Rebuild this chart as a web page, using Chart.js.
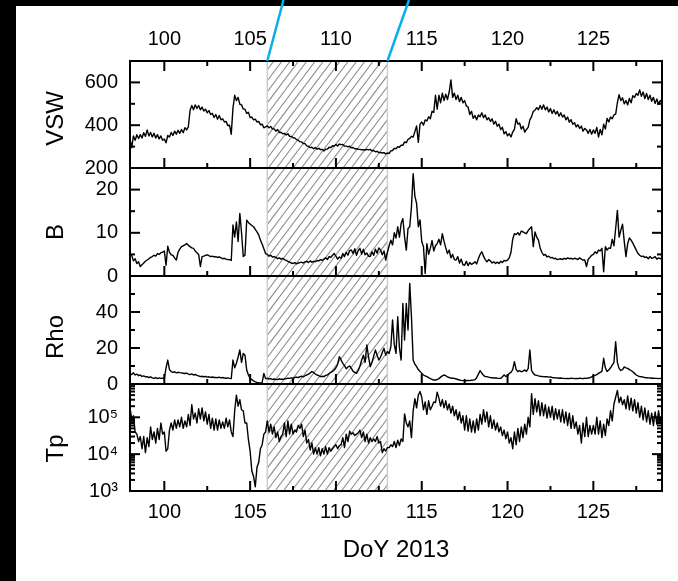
<!DOCTYPE html>
<html lang="en">
<head>
    <meta charset="UTF-8">
    <title>Solar wind, DoY 2013</title>

    <!-- Chart.js Library -->
    <script src="https://cdn.jsdelivr.net/npm/chart.js"></script>

    <style>
        html, body {
            margin: 0;
            width: 678px;
            height: 581px;
            overflow: hidden;
            background: #000;
        }

        /* white sheet, the black strip shows on the left and top */
        .sheet {
            position: absolute;
            left: 16px;
            top: 6px;
            right: 0;
            bottom: 0;
            background: #fff;
        }

        .stack canvas {
            position: absolute;
            left: 0;
            top: 0;
        }
    </style>
</head>

<body>
    <div class="sheet"></div>
    <div class="stack">
        <canvas id="c-vsw" width="678" height="581"></canvas>
        <canvas id="c-b" width="678" height="581"></canvas>
        <canvas id="c-rho" width="678" height="581"></canvas>
        <canvas id="c-tp" width="678" height="581"></canvas>
    </div>

    <script>
        // Sampling: one value every 0.1 day, DoY 98.0 .. 129.0
        const dayStart = 98.0;
        const dayStep = 0.1;

        // shaded interval (DoY)
        const hatchFrom = 106;
        const hatchTo = 113;

        // x ticks
        const xMajor = [100, 105, 110, 115, 120, 125];
        const xMinor = [102.5, 107.5, 112.5, 117.5, 122.5, 127.5];

        // y ticks per panel
        const vswTicks = [200, 400, 600];
        const vswMinor = [300, 500];
        const bTicks = [0, 10, 20];
        const bMinor = [5, 15];
        const rhoTicks = [0, 20, 40];
        const rhoMinor = [10, 30, 50];
        const tpTicks = [1e3, 1e4, 1e5];
        const tpTickLabels = ['10³', '10⁴', '10⁵'];

        // Solar wind speed (km/s)
        const vsw = [
            335, 295, 350, 330, 355, 338, 356, 340, 365, 348,
            378, 350, 366, 345, 362, 340, 356, 336, 350, 330,
            335, 318, 352, 345, 366, 352, 372, 358, 376, 362,
            380, 365, 388, 378, 392, 470, 492, 472, 495, 478,
            492, 472, 485, 466, 475, 458, 468, 450, 455, 436,
            450, 428, 445, 425, 430, 415, 418, 398, 400, 358,
            480, 540, 515, 530, 498, 495, 476, 475, 455, 460,
            436, 438, 425, 428, 415, 418, 402, 405, 388, 392,
            397, 388, 394, 383, 383, 372, 380, 366, 367, 360,
            362, 354, 360, 348, 348, 341, 340, 333, 330, 323,
            322, 314, 314, 303, 302, 295, 297, 290, 296, 288,
            292, 286, 287, 280, 288, 288, 297, 296, 304, 303,
            310, 303, 312, 309, 310, 302, 302, 299, 302, 294,
            296, 290, 290, 287, 287, 285, 286, 284, 287, 285,
            287, 280, 282, 276, 278, 272, 273, 270, 272, 266,
            270, 268, 280, 282, 292, 290, 300, 297, 307, 306,
            322, 318, 334, 338, 348, 345, 370, 397, 320, 405,
            415, 400, 425, 420, 440, 430, 465, 460, 540, 475,
            540, 505, 550, 515, 545, 520, 555, 612, 530, 550,
            520, 540, 510, 530, 505, 515, 490, 485, 450, 465,
            432, 445, 425, 448, 440, 458, 435, 448, 425, 435,
            418, 430, 405, 418, 395, 405, 380, 390, 360, 370,
            350, 360, 345, 368, 380, 430, 405, 410, 382, 395,
            368, 380, 390, 425, 440, 465, 470, 482, 472, 492,
            475, 495, 472, 485, 462, 478, 455, 472, 452, 465,
            442, 458, 438, 448, 425, 438, 414, 426, 404, 412,
            392, 402, 385, 396, 372, 385, 378, 362, 380, 358,
            378, 362, 390, 345, 380, 355, 405, 382, 432, 415,
            438, 430, 448, 452, 505, 543, 515, 528, 500, 515,
            495, 525, 505, 538, 530, 548, 540, 565, 535, 555,
            525, 548, 520, 540, 512, 530, 502, 522, 498, 515,
            505
        ];

        // Magnetic field magnitude (nT)
        const bField = [
            5.0, 4.8, 3.5, 4.0, 2.9, 3.3, 2.2, 2.6, 3.0, 3.4,
            3.7, 4.0, 4.3, 4.5, 4.8, 4.6, 5.2, 5.0, 5.4, 5.5,
            5.8, 2.5, 6.9, 5.5, 4.9, 4.8, 4.2, 3.7, 5.5, 6.2,
            6.8, 7.0, 7.2, 7.5, 7.1, 6.8, 6.5, 6.4, 5.8, 5.4,
            5.0, 2.2, 4.5, 4.6, 4.8, 4.9, 4.7, 4.5, 4.6, 4.4,
            4.5, 4.3, 4.4, 4.2, 4.0, 4.1, 3.9, 3.8, 3.8, 3.6,
            11.8, 9.0, 12.5, 8.0, 14.5, 10.0, 4.5, 4.8, 12.9, 12.4,
            12.0, 11.7, 11.4, 10.8, 10.2, 9.5, 8.3, 7.4, 6.3, 5.2,
            5.0, 4.6, 4.8, 4.4, 4.5, 4.3, 4.0, 4.2, 3.9, 4.1,
            3.8, 3.6, 3.4, 3.2, 3.0, 2.9, 3.1, 2.8, 3.0, 3.1,
            3.2, 3.0, 3.3, 3.4, 3.1, 3.5, 3.2, 3.4, 3.3, 3.6,
            3.5, 3.8, 3.6, 3.9, 4.2, 3.8, 4.5, 4.3, 4.8, 5.2,
            4.6, 3.9, 4.4, 4.1, 5.2, 4.5, 5.5, 4.8, 5.9, 6.0,
            5.2, 6.3, 4.8, 5.9, 6.4, 5.1, 6.2, 4.9, 5.3, 4.6,
            4.5, 5.6, 4.8, 6.2, 5.3, 6.5, 6.0, 4.9, 5.8, 3.7,
            5.5, 7.0, 8.3, 7.2, 10.0, 8.8, 11.4, 9.0, 12.2, 13.3,
            9.0, 6.0, 11.0, 11.4, 16.0, 23.7, 18.5, 16.8, 11.4, 13.0,
            8.0, 6.8, 0.6, 7.5, 5.0, 6.4, 8.2, 5.8, 7.0, 7.5,
            8.5, 7.2, 9.8, 8.0, 6.5, 5.2, 6.0, 4.2, 5.0, 3.8,
            3.7, 4.5, 3.0, 3.9, 2.6, 2.5, 3.4, 2.4, 3.1, 2.7,
            2.9, 3.3, 2.8, 4.0, 5.0, 5.6, 4.6, 3.8, 3.3, 3.8,
            3.5, 3.0, 3.3, 2.9, 3.2, 2.9, 3.4, 3.1, 3.6, 3.5,
            3.7, 4.2, 5.5, 8.5, 9.8, 9.6, 10.0, 9.5, 10.4, 10.2,
            10.0, 9.8, 10.5, 11.0, 11.4, 6.8, 10.2, 9.0, 8.3, 6.5,
            5.5, 4.8, 5.0, 4.4, 4.6, 4.2, 4.3, 4.0, 4.1, 3.8,
            3.9, 4.0, 3.8, 4.1, 3.9, 4.2, 4.0, 4.1, 3.9, 4.1,
            4.0, 3.8, 4.2, 3.9, 3.7, 3.7, 2.2, 3.9, 4.3, 4.8,
            5.0, 5.6, 5.2, 6.0, 5.8, 6.4, 1.0, 6.8, 6.0, 6.5,
            6.4, 8.5, 7.0, 11.0, 15.2, 9.0, 10.6, 12.0, 8.0, 4.5,
            7.5, 8.8, 8.3, 7.6, 6.8, 6.0, 5.2, 4.8, 4.5, 4.6,
            4.3, 4.4, 4.0, 4.5, 4.1, 4.2, 4.5, 3.9, 4.2, 4.0,
            4.1
        ];

        // Proton density (cm^-3)
        const rho = [
            5.9, 5.2, 6.2, 5.0, 5.5, 4.6, 5.0, 4.2, 4.5, 4.0,
            4.1, 3.5, 4.0, 3.4, 3.1, 3.6, 3.0, 3.4, 3.1, 3.2,
            3.1, 9.0, 13.3, 8.0, 6.9, 6.5, 6.8, 6.2, 6.5, 6.3,
            6.2, 6.0, 5.8, 6.1, 5.5, 5.2, 5.6, 5.0, 5.3, 4.8,
            4.5, 4.1, 4.3, 4.0, 4.2, 3.8, 4.0, 3.7, 3.9, 3.6,
            3.7, 3.5, 3.8, 3.4, 3.6, 3.3, 3.2, 3.4, 3.1, 3.0,
            13.3, 9.0, 11.5, 15.0, 18.9, 12.0, 17.0, 16.0, 7.8, 5.0,
            3.1, 2.4, 1.7, 1.2, 0.9, 0.7, 0.6, 0.7, 5.9, 3.0,
            3.1, 2.8, 3.0, 2.5, 2.8, 2.6, 2.4, 2.9, 2.6, 2.6,
            2.8, 3.0, 3.2, 3.1, 3.4, 3.2, 3.6, 3.8, 3.5, 4.1,
            4.3, 4.0, 4.6, 5.0, 5.5, 6.2, 6.9, 6.4, 5.5, 5.0,
            4.6, 4.1, 4.3, 4.1, 4.8, 5.0, 5.8, 6.5, 7.0, 7.8,
            9.0, 11.0, 15.2, 13.3, 11.5, 10.2, 8.5, 9.5, 10.0, 8.7,
            7.0, 6.5, 5.9, 7.5, 10.0, 13.3, 16.0, 12.0, 21.7, 15.0,
            9.6, 12.0, 15.5, 18.9, 16.0, 13.3, 15.0, 17.5, 19.8, 16.0,
            18.0, 17.0, 20.7, 35.6, 22.0, 17.0, 37.4, 20.0, 13.3, 44.8,
            24.4, 44.8, 30.0, 55.9, 37.4, 13.3, 11.0, 9.6, 8.0, 7.0,
            5.9, 5.0, 4.5, 4.1, 3.5, 3.0, 2.6, 2.2, 2.2, 2.5,
            3.0, 3.8, 4.5, 5.0, 4.6, 4.0, 3.6, 3.3, 3.2, 3.1,
            2.8, 2.5, 2.2, 2.0, 1.9, 1.9, 1.8, 2.0, 1.9, 2.1,
            2.2, 2.4, 3.5, 5.5, 7.4, 6.0, 4.8, 4.1, 4.1, 3.8,
            3.6, 3.5, 3.3, 3.4, 3.2, 3.1, 3.1, 4.0, 5.0, 4.2,
            4.5, 5.9, 6.5, 8.0, 12.4, 8.0, 6.9, 7.5, 6.8, 7.2,
            7.8, 7.0, 8.5, 18.9, 7.5, 5.9, 5.0, 4.8, 4.5, 4.3,
            4.2, 4.1, 4.0, 4.1, 3.8, 3.9, 3.6, 3.5, 3.4, 3.3,
            3.2, 3.3, 3.1, 3.1, 3.0, 3.1, 3.0, 3.2, 3.1, 3.0,
            3.1, 3.0, 3.2, 3.1, 3.0, 3.2, 3.1, 3.3, 3.5, 4.0,
            4.5, 4.8, 5.2, 5.9, 6.5, 7.0, 14.3, 9.0, 7.0, 7.8,
            9.0, 10.5, 12.0, 23.5, 12.0, 8.7, 7.5, 8.0, 9.5, 9.0,
            8.7, 8.0, 7.5, 6.8, 5.9, 5.0, 4.5, 4.1, 4.0, 3.8,
            3.6, 3.5, 3.4, 3.3, 3.2, 3.2, 3.1, 3.1, 3.0, 3.1,
            3.1
        ];

        // Proton temperature, in thousands of K (upper/lower edge of the band, alternating)
        const tpKilo = [
            180, 90, 110, 40, 35, 22, 30, 14, 30, 11,
            28, 16, 55, 25, 40, 20, 50, 25, 70, 35,
            40, 12, 14, 45, 70, 45, 85, 50, 85, 55,
            100, 50, 80, 55, 120, 60, 220, 90, 130, 70,
            170, 90, 180, 80, 140, 65, 120, 50, 95, 45,
            90, 45, 85, 50, 75, 50, 95, 55, 85, 40,
            30, 150, 400, 200, 300, 160, 150, 70, 70, 25,
            12, 3.5, 2.5, 1.3, 4.4, 6, 14, 18, 35, 40,
            80, 40, 65, 35, 55, 28, 40, 22, 30, 35,
            70, 30, 80, 35, 65, 35, 45, 40, 60, 50,
            65, 30, 45, 20, 25, 13, 20, 10, 15, 10,
            15, 9, 14, 10, 16, 10, 15, 12, 14, 16,
            18, 14, 17, 18, 28, 15, 35, 22, 42, 35,
            38, 32, 35, 38, 45, 28, 40, 22, 35, 20,
            28, 22, 26, 22, 30, 20, 22, 11, 14, 12,
            15, 15, 18, 16, 22, 15, 24, 17, 26, 22,
            123, 70, 55, 80, 28, 150, 320, 180, 400, 500,
            350, 160, 260, 120, 280, 160, 200, 260, 250, 480,
            330, 200, 300, 180, 280, 160, 230, 130, 200, 110,
            160, 85, 140, 70, 110, 45, 110, 42, 90, 40,
            80, 38, 90, 45, 120, 65, 160, 75, 140, 55,
            110, 50, 85, 45, 70, 40, 55, 32, 45, 26,
            40, 20, 28, 14, 40, 18, 50, 22, 55, 28,
            65, 35, 100, 55, 437, 120, 320, 140, 280, 110,
            250, 110, 220, 95, 190, 100, 200, 85, 170, 90,
            160, 75, 160, 70, 140, 60, 130, 50, 110, 50,
            75, 35, 60, 20, 70, 30, 100, 30, 60, 35,
            60, 35, 100, 35, 80, 28, 65, 32, 90, 60,
            150, 80, 230, 350, 537, 250, 350, 220, 300, 170,
            380, 160, 330, 150, 300, 130, 250, 100, 200, 85,
            180, 75, 150, 65, 130, 60, 140, 65, 150, 70,
            100
        ];

        const days = vsw.map((_, i) => dayStart + i * dayStep);

        // minor ticks of the log axis: 2..9 in every decade
        const tpMinor = [];
        tpTicks.forEach(d => { for (let m = 2; m <= 9; m++) if (m * d <= 8e5) tpMinor.push(m * d); });

        Chart.defaults.font.family = '"Liberation Sans", Arial, Helvetica, sans-serif';
        Chart.defaults.color = '#000';

        // hatch, frame, inward ticks, side label and the two link lines
        const panelDecor = {
            id: 'panelDecor',
            beforeDatasetsDraw(chart, args, o) {
                const { ctx, chartArea: a } = chart;
                const sx = chart.scales.x;
                const x0 = sx.getPixelForValue(hatchFrom);
                const x1 = sx.getPixelForValue(hatchTo);
                const H = chart.height;
                ctx.save();
                ctx.beginPath();
                ctx.rect(x0, a.top, x1 - x0, a.bottom - a.top);
                ctx.clip();
                ctx.strokeStyle = '#8c8c8c';
                ctx.lineWidth = 1.1;
                const sMin = x0 - (H - a.top) * o.hatchLean;
                const sMax = x1 - (H - a.bottom) * o.hatchLean;
                for (let s = Math.floor(sMin / o.hatchGap) * o.hatchGap; s <= sMax; s += o.hatchGap) {
                    ctx.beginPath();
                    ctx.moveTo(s + (H - a.bottom) * o.hatchLean, a.bottom);
                    ctx.lineTo(s + (H - a.top) * o.hatchLean, a.top);
                    ctx.stroke();
                }
                ctx.restore();

                ctx.save();
                ctx.strokeStyle = '#cdcdcd';
                ctx.lineWidth = 1.5;
                [x0, x1].forEach(x => {
                    ctx.beginPath();
                    ctx.moveTo(x, a.top);
                    ctx.lineTo(x, a.bottom);
                    ctx.stroke();
                });
                ctx.restore();
            },
            afterDraw(chart, args, o) {
                const { ctx, chartArea: a } = chart;
                const sx = chart.scales.x, sy = chart.scales.y;
                const seg = (x1, y1, x2, y2) => {
                    ctx.beginPath();
                    ctx.moveTo(x1, y1);
                    ctx.lineTo(x2, y2);
                    ctx.stroke();
                };
                ctx.save();
                ctx.strokeStyle = '#000';
                ctx.lineWidth = 2;
                const xt = (vals, len) => vals.forEach(v => {
                    const p = sx.getPixelForValue(v);
                    seg(p, a.bottom, p, a.bottom - len);
                    if (o.topTicks) seg(p, a.top, p, a.top + len);
                });
                xt(xMajor, 10);
                xt(xMinor, 5);
                const yt = (vals, len) => vals.forEach(v => {
                    const p = sy.getPixelForValue(v);
                    seg(a.left, p, a.left + len, p);
                    seg(a.right, p, a.right - len, p);
                });
                yt(o.yMajor, 10);
                yt(o.yMinor, 5);
                ctx.strokeRect(a.left, a.top, a.right - a.left, a.bottom - a.top);

                // rotated panel label
                ctx.fillStyle = '#000';
                ctx.font = '24px "Liberation Sans", Arial, sans-serif';
                ctx.textAlign = 'center';
                ctx.textBaseline = 'alphabetic';
                ctx.translate(o.titleX, (a.top + a.bottom) / 2 + o.titleShift);
                ctx.rotate(-Math.PI / 2);
                ctx.fillText(o.title, 0, 0);
                ctx.restore();

                // blue lines leading up from the shaded interval
                ctx.save();
                ctx.strokeStyle = '#0aaeea';
                ctx.lineWidth = 2.5;
                (o.links || []).forEach(l => seg(sx.getPixelForValue(l.day), a.top, l.topX, 0));
                ctx.restore();
            }
        };

        function xScale(show, extra) {
            return Object.assign({
                type: 'linear',
                min: dayStart,
                max: 129,
                display: show,
                afterBuildTicks: s => { s.ticks = xMajor.map(v => ({ value: v })); },
                ticks: { font: { size: 20 }, color: '#000', maxRotation: 0, autoSkip: false },
                grid: { display: false, drawTicks: false },
                border: { display: false }
            }, extra);
        }

        function makePanel(p) {
            const scales = {
                x: p.bottomAxis
                    ? xScale(true, {
                        position: 'bottom',
                        afterFit: s => { s.height = 90; },
                        title: { display: true, text: 'DoY 2013', font: { size: 24 }, color: '#000', padding: { top: 0, bottom: 16 } }
                    })
                    : xScale(false, { position: 'bottom' }),
                y: {
                    type: p.type,
                    min: p.min,
                    max: p.max,
                    position: 'left',
                    afterFit: s => { s.width = 130; },
                    afterBuildTicks: s => { s.ticks = p.yMajor.map(v => ({ value: v })); },
                    ticks: { font: { size: 20 }, color: '#000', padding: 12, callback: p.label },
                    grid: { display: false, drawTicks: false },
                    border: { display: false }
                }
            };
            scales.x.ticks = Object.assign({}, scales.x.ticks, { padding: 9 });
            if (p.topAxis) {
                scales.x2 = xScale(true, {
                    position: 'top',
                    afterFit: s => { s.height = 55; }
                });
                scales.x2.ticks = Object.assign({}, scales.x2.ticks, { padding: 10 });
            }

            return new Chart(document.getElementById(p.id), {
                type: 'line',
                data: {
                    datasets: [{
                        data: p.values.map((v, i) => ({ x: days[i], y: v * p.unit })),
                        borderColor: '#000',
                        borderWidth: 1.4,
                        borderJoinStyle: 'round',
                        pointRadius: 0,
                        tension: 0
                    }]
                },
                options: {
                    responsive: false,
                    animation: false,
                    devicePixelRatio: 1,
                    layout: { padding: p.pad },
                    plugins: {
                        legend: { display: false },
                        tooltip: { enabled: false },
                        panelDecor: {
                            title: p.title,
                            titleX: 63,
                            titleShift: p.titleShift,
                            yMajor: p.yMajor,
                            yMinor: p.yMinor,
                            topTicks: !!p.topAxis,
                            hatchGap: 8.3,
                            hatchLean: 0.75,
                            links: p.links
                        }
                    },
                    scales: scales
                },
                plugins: [panelDecor]
            });
        }

        makePanel({
            id: 'c-vsw', values: vsw, unit: 1, type: 'linear', min: 200, max: 700,
            yMajor: vswTicks, yMinor: vswMinor, title: 'VSW', titleShift: 4,
            pad: { left: 0, right: 16, top: 6, bottom: 413 }, topAxis: true,
            links: [{ day: hatchFrom, topX: 283.5 }, { day: hatchTo, topX: 409 }]
        });
        makePanel({
            id: 'c-b', values: bField, unit: 1, type: 'linear', min: 0, max: 25,
            yMajor: bTicks, yMinor: bMinor, title: 'B', titleShift: 10,
            pad: { left: 0, right: 16, top: 168, bottom: 305 }
        });
        makePanel({
            id: 'c-rho', values: rho, unit: 1, type: 'linear', min: 0, max: 60,
            yMajor: rhoTicks, yMinor: rhoMinor, title: 'Rho', titleShift: 7,
            pad: { left: 0, right: 16, top: 276, bottom: 197 }
        });
        makePanel({
            id: 'c-tp', values: tpKilo, unit: 1000, type: 'logarithmic', min: 1e3, max: 8e5,
            yMajor: tpTicks, yMinor: tpMinor, title: 'Tp', titleShift: 11,
            label: (v, i) => tpTickLabels[i],
            pad: { left: 0, right: 16, top: 384, bottom: 0 }, bottomAxis: true
        });
    </script>
</body>
</html>
